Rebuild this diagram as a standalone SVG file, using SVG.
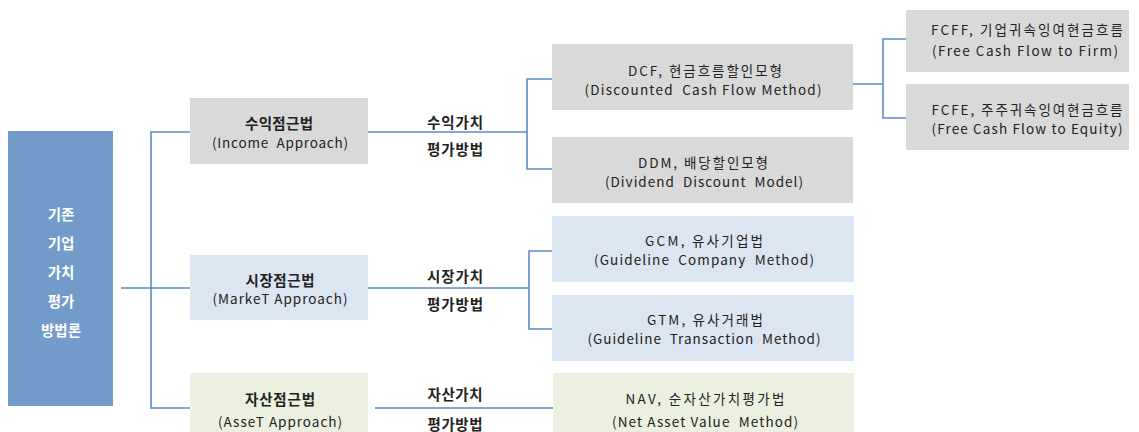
<svg xmlns="http://www.w3.org/2000/svg" width="1139" height="432" viewBox="0 0 1139 432">
<style>
.t{font-family:"Noto Sans CJK KR","Liberation Sans",sans-serif;font-size:13.5px;fill:#222;text-anchor:middle;dominant-baseline:central}
.b{font-weight:700;font-size:14.5px}
.w{fill:#fff;font-size:14.5px;font-weight:700}
.grey{fill:#d9d9d9}
.blue{fill:#dce6f2}
.green{fill:#ebf1de}
.conn{fill:none;stroke:#5b8bc9;stroke-width:1.6}
</style>
<rect width="1139" height="432" fill="#fff"/>
<g id="connectors">
<path class="conn" d="M121 288H190M190 132H151V408H190"/>
<path class="conn" d="M368 132H527M552 79H527V169H552"/>
<path class="conn" d="M853 84H883M906 39H883V118H906"/>
<path class="conn" d="M368 288H529M552 251H529V329H552"/>
<path class="conn" d="M375 408H553"/>
</g>
<g id="root">
<rect x="8" y="131" width="105" height="275" fill="#739bca"/>
<text class="t w" x="61" y="213">기존</text>
<text class="t w" x="61" y="242">기업</text>
<text class="t w" x="61" y="271">가치</text>
<text class="t w" x="61" y="300">평가</text>
<text class="t w" x="61" y="329">방법론</text>
</g>
<g id="income">
<rect class="grey" x="190" y="98" width="178" height="66"/>
<text class="t b" x="279" y="122" textLength="68">수익점근법</text>
<text class="t" x="280" y="142" textLength="136" xml:space="preserve">(Income  Approach)</text>
</g>
<g id="income-label">
<text class="t b" x="455" y="121" textLength="56">수익가치</text>
<text class="t b" x="455" y="148" textLength="56">평가방법</text>
</g>
<g id="market">
<rect class="blue" x="190" y="255" width="178" height="65"/>
<text class="t b" x="280" y="279" textLength="69">시장점근법</text>
<text class="t" x="280" y="298" textLength="135">(MarkeT Approach)</text>
</g>
<g id="market-label">
<text class="t b" x="455" y="275" textLength="56">시장가치</text>
<text class="t b" x="455" y="303" textLength="56">평가방법</text>
</g>
<g id="asset">
<rect class="green" x="190" y="373" width="178" height="59"/>
<text class="t b" x="280" y="398" textLength="70">자산점근법</text>
<text class="t" x="280" y="421" textLength="124">(AsseT Approach)</text>
</g>
<g id="asset-label">
<text class="t b" x="455" y="393" textLength="55">자산가치</text>
<text class="t b" x="455" y="423" textLength="55">평가방법</text>
</g>
<g id="dcf">
<rect class="grey" x="552" y="44" width="301" height="66"/>
<text class="t" x="705" y="69.5" textLength="154">DCF, 현금흐름할인모형</text>
<text class="t" x="703" y="88.5" textLength="237" xml:space="preserve">(Discounted  Cash Flow Method)</text>
</g>
<g id="ddm">
<rect class="grey" x="552" y="137" width="301" height="66"/>
<text class="t" x="703" y="161.5" textLength="130">DDM, 배당할인모형</text>
<text class="t" x="704" y="180.5" textLength="198" xml:space="preserve">(Dividend  Discount  Model)</text>
</g>
<g id="gcm">
<rect class="blue" x="552" y="216" width="302" height="66"/>
<text class="t" x="704" y="240" textLength="118">GCM, 유사기업법</text>
<text class="t" x="704" y="259" textLength="220" xml:space="preserve">(Guideline  Company  Method)</text>
</g>
<g id="gtm">
<rect class="blue" x="552" y="295" width="302" height="66"/>
<text class="t" x="705" y="319" textLength="116">GTM, 유사거래법</text>
<text class="t" x="704" y="338" textLength="233" xml:space="preserve">(Guideline  Transaction  Method)</text>
</g>
<g id="nav">
<rect class="green" x="553" y="373" width="301" height="59"/>
<text class="t" x="705" y="398" textLength="159">NAV, 순자산가치평가법</text>
<text class="t" x="705" y="421" textLength="186" xml:space="preserve">(Net Asset Value  Method)</text>
</g>
<g id="fcff">
<rect class="grey" x="906" y="10" width="223" height="62"/>
<text class="t" x="1027" y="29" textLength="192">FCFF, 기업귀속잉여현금흐름</text>
<text class="t" x="1025" y="50" textLength="186">(Free Cash Flow to Firm)</text>
</g>
<g id="fcfe">
<rect class="grey" x="906" y="84" width="223" height="66"/>
<text class="t" x="1027" y="109" textLength="191">FCFE, 주주귀속잉여현금흐름</text>
<text class="t" x="1027" y="128" textLength="191">(Free Cash Flow to Equity)</text>
</g>
</svg>
